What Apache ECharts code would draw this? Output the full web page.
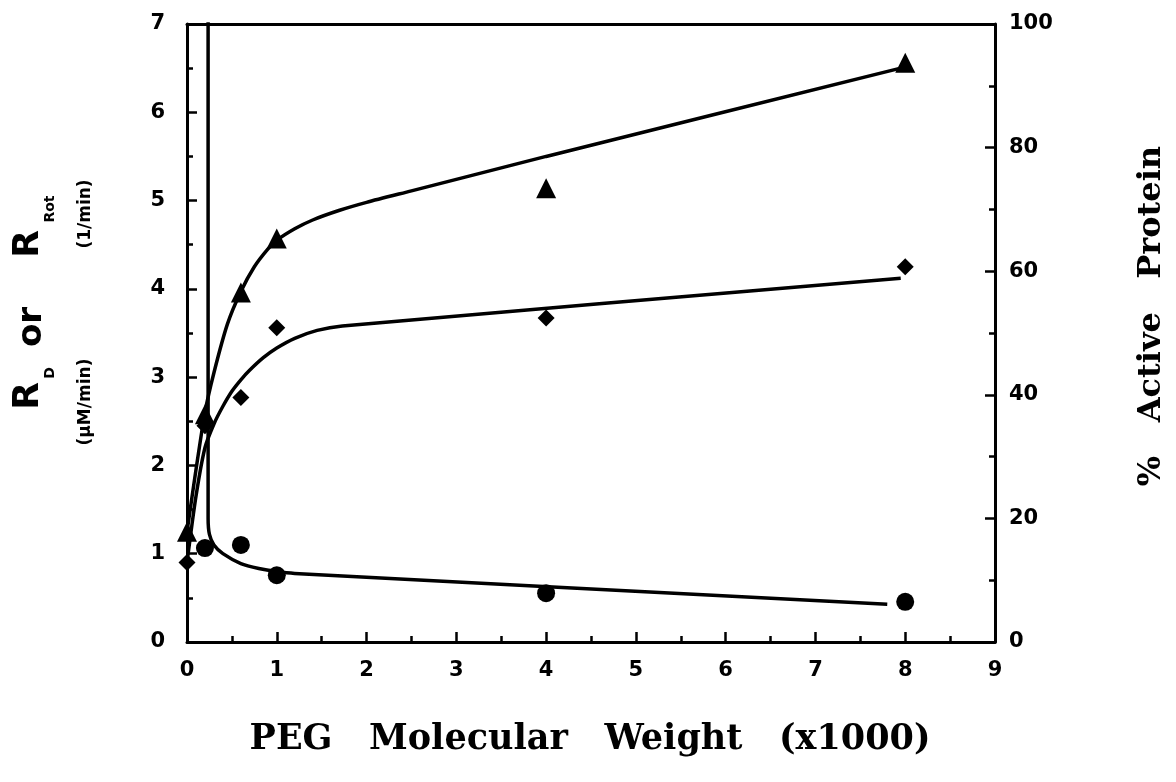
<!DOCTYPE html>
<html>
<head>
<meta charset="utf-8">
<script src="https://cdn.jsdelivr.net/npm/echarts@6/dist/echarts.min.js"></script>
<style>
  html, body { margin: 0; padding: 0; background: #fff; }
  #chart { width: 1176px; height: 782px; }
</style>
</head>
<body>
<div id="chart"></div>
<script>
// PEG molecular weight (x1000) for each measured sample
const pegMw = [0, 0.2, 0.6, 1, 4, 8];
// Rotational rate R_Rot (1/min) - triangles
const rotRate = [1.25, 2.58, 3.96, 4.57, 5.14, 6.56];
// Diffusion rate R_D (uM/min) - diamonds
const diffRate = [0.9, 2.45, 2.77, 3.56, 3.67, 4.25];
// % active protein - circles (right axis)
const activeMw = [0.2, 0.6, 1, 4, 8];
const activePct = [15.2, 15.7, 10.8, 7.9, 6.5];

// Fitted curves drawn through the data
const rotFitX = [0, 0.1, 0.2, 0.3, 0.45, 0.6, 0.75, 0.9, 1.0, 1.2, 1.4, 1.7, 2.0, 2.5, 3.0, 3.5, 4.0, 7.95];
const rotFitY = [1.25, 1.95, 2.6, 3.05, 3.6, 3.97, 4.25, 4.45, 4.55, 4.68, 4.78, 4.89, 4.98, 5.11, 5.24, 5.37, 5.5, 6.5];
const diffFitX = [0, 0.1, 0.2, 0.3, 0.4, 0.5, 0.6, 0.7, 0.85, 1.0, 1.2, 1.45, 1.73, 7.95];
const diffFitY = [0.9, 1.65, 2.2, 2.47, 2.67, 2.84, 2.97, 3.08, 3.22, 3.33, 3.44, 3.53, 3.58, 4.12];
const activeFitX = [0.235, 0.235, 0.25, 0.3, 0.4, 0.6, 0.8, 1.0, 1.2, 7.8];
const activeFitY = [104, 20, 17.4, 15.7, 14.3, 12.7, 11.9, 11.4, 11.1, 6.1];

// Axis tick values
const xTicks = [0, 1, 2, 3, 4, 5, 6, 7, 8, 9];
const leftTicks = [0, 1, 2, 3, 4, 5, 6, 7];
const rightTicks = [0, 20, 40, 60, 80, 100];

const zip = (xs, ys) => xs.map((x, i) => [x, ys[i]]);

const tickFont = { fontFamily: 'DejaVu Sans', fontWeight: 'bold', fontSize: 21, color: '#000' };
const axisLine = { show: true, onZero: false, lineStyle: { color: '#000', width: 3 } };
const noSplit = { show: false };
const majorTick = { show: true, inside: true, length: 10, lineStyle: { color: '#000', width: 2.5 } };
const minorTick = { show: true, inside: true, length: 6, lineStyle: { color: '#000', width: 2.5 } };

// Main axis with labels and long ticks
const mainAxis = (opts, label) => Object.assign({
  type: 'value', axisLine, axisTick: majorTick, splitLine: noSplit,
  axisLabel: Object.assign({}, tickFont, label)
}, opts);
// Overlaid axis carrying only the short half-step ticks
const halfAxis = (opts) => Object.assign({
  type: 'value', axisLine: { show: false, onZero: false }, axisTick: minorTick, splitLine: noSplit,
  axisLabel: { show: false }
}, opts);

const chart = echarts.init(document.getElementById('chart'), null, { renderer: 'canvas' });

const fitLine = (data, yIdx) => ({
  type: 'line', data, yAxisIndex: yIdx, showSymbol: false, smooth: 0.25,
  lineStyle: { color: '#000', width: 3.5 }, clip: true, z: 2
});
const marks = (data, symbol, size, yIdx) => ({
  type: 'scatter', data, symbol, symbolSize: size, yAxisIndex: yIdx,
  itemStyle: { color: '#000', opacity: 1 }, z: 3
});

const txt = (x, y, text, size, family, rot) => ({
  type: 'text', x, y, rotation: rot || 0,
  style: { text, fontSize: size, fontFamily: family, fontWeight: 'bold', fill: '#000',
    align: 'center', verticalAlign: 'middle' }
});

const xMin = xTicks[0], xMax = xTicks[xTicks.length - 1];
const lMin = leftTicks[0], lMax = leftTicks[leftTicks.length - 1];
const rMin = rightTicks[0], rMax = rightTicks[rightTicks.length - 1];

chart.setOption({
  animation: false,
  backgroundColor: '#fff',
  grid: { left: 187, right: 181, top: 24, bottom: 140 },
  xAxis: [
    mainAxis({ min: xMin, max: xMax, interval: 1, position: 'bottom' }, { margin: 18 }),
    halfAxis({ min: xMin, max: xMax, interval: 0.5, position: 'bottom' }),
    { type: 'value', position: 'top', min: xMin, max: xMax, axisLine,
      axisTick: { show: false }, axisLabel: { show: false }, splitLine: noSplit }
  ],
  yAxis: [
    mainAxis({ min: lMin, max: lMax, interval: 1, position: 'left' }, { margin: 22 }),
    mainAxis({ min: rMin, max: rMax, interval: 20, position: 'right' }, { margin: 14 }),
    halfAxis({ min: lMin, max: lMax, interval: 0.5, position: 'left' }),
    halfAxis({ min: rMin, max: rMax, interval: 10, position: 'right' })
  ],
  series: [
    fitLine(zip(rotFitX, rotFitY), 0),
    fitLine(zip(diffFitX, diffFitY), 0),
    fitLine(zip(activeFitX, activeFitY), 1),
    marks(zip(pegMw, rotRate), 'triangle', 20, 0),
    marks(zip(pegMw, diffRate), 'diamond', 17, 0),
    marks(zip(activeMw, activePct), 'circle', 18, 1)
  ],
  graphic: [
    txt(590, 740, 'PEG   Molecular   Weight   (x1000)', 35, 'DejaVu Serif', 0),
    txt(1152, 316, '%   Active   Protein', 32, 'DejaVu Serif', Math.PI / 2),
    // left axis title: R_D or R_Rot with units
    txt(29, 396, 'R', 36, 'DejaVu Sans', Math.PI / 2),
    txt(50, 373, 'D', 14, 'DejaVu Sans', Math.PI / 2),
    txt(32, 327, 'or', 34, 'DejaVu Sans', Math.PI / 2),
    txt(29, 244, 'R', 36, 'DejaVu Sans', Math.PI / 2),
    txt(50, 209, 'Rot', 14, 'DejaVu Sans', Math.PI / 2),
    txt(86, 402, '(μM/min)', 17, 'DejaVu Sans', Math.PI / 2),
    txt(86, 214, '(1/min)', 17, 'DejaVu Sans', Math.PI / 2)
  ]
});
</script>
</body>
</html>
